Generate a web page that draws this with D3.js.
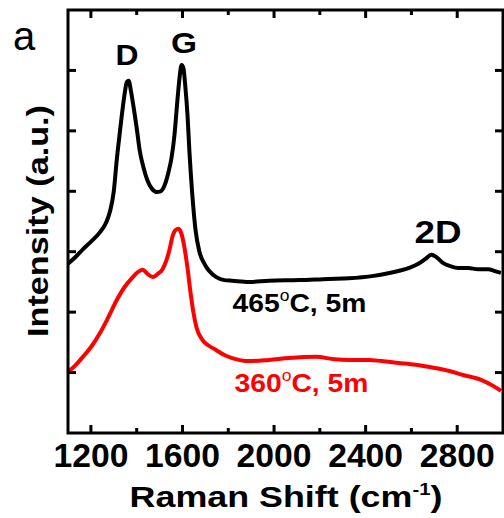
<!DOCTYPE html>
<meta charset="utf-8">
<script src="https://d3js.org/d3.v7.min.js"></script>
<style>
  body { margin: 0; background: #fff; }
  text { font-family: Arial, "Liberation Sans", sans-serif; }
</style>
<div id="chart"></div>
<script>

// Raman spectra (x = cm-1, y = intensity a.u.)
var shift465 = [1100, 1135, 1165, 1204, 1239, 1265, 1283, 1300, 1313, 1326, 1339, 1348, 1357, 1365, 1374, 1387, 1400, 1413, 1430, 1448, 1465, 1487, 1504, 1522, 1539, 1552, 1565, 1578, 1587, 1596, 1604, 1613, 1622, 1630, 1643, 1657, 1674, 1696, 1717, 1748, 1783, 1817, 1891, 1978, 2109, 2239, 2326, 2435, 2543, 2596, 2630, 2661, 2687, 2709, 2739, 2770, 2804, 2848, 2891, 2935, 2965, 2991];
var int465   = [2.80, 2.92, 3.04, 3.18, 3.32, 3.47, 3.66, 4.00, 4.52, 4.96, 5.38, 5.63, 5.81, 5.83, 5.68, 5.38, 5.05, 4.68, 4.39, 4.17, 4.05, 3.99, 4.00, 4.10, 4.32, 4.55, 4.93, 5.51, 5.87, 6.09, 6.04, 5.71, 5.26, 4.68, 3.94, 3.36, 3.00, 2.80, 2.68, 2.58, 2.53, 2.52, 2.50, 2.52, 2.53, 2.55, 2.56, 2.60, 2.68, 2.74, 2.80, 2.88, 2.95, 2.91, 2.81, 2.76, 2.73, 2.73, 2.71, 2.71, 2.68, 2.65];

var shift360 = [1100, 1130, 1165, 1204, 1239, 1274, 1313, 1348, 1383, 1404, 1426, 1448, 1470, 1491, 1513, 1530, 1543, 1557, 1570, 1583, 1596, 1609, 1622, 1635, 1648, 1661, 1687, 1717, 1748, 1783, 1817, 1891, 1978, 2065, 2183, 2265, 2326, 2413, 2470, 2543, 2617, 2696, 2761, 2826, 2904, 2957, 2991];
var int360   = [1.01, 1.11, 1.26, 1.44, 1.65, 1.90, 2.20, 2.42, 2.58, 2.66, 2.70, 2.63, 2.58, 2.63, 2.71, 2.86, 3.03, 3.26, 3.36, 3.38, 3.29, 3.06, 2.73, 2.33, 1.99, 1.75, 1.54, 1.44, 1.37, 1.29, 1.24, 1.19, 1.21, 1.24, 1.26, 1.22, 1.21, 1.21, 1.19, 1.16, 1.13, 1.08, 1.03, 0.96, 0.88, 0.78, 0.70];

var xTicks = [1200, 1600, 2000, 2400, 2800];
var xMinor = [1400, 1800, 2200, 2600];
var yTicks = [1, 2, 3, 4, 5, 6];

var W = 504, H = 518;
var svg = d3.select("#chart").append("svg")
    .attr("width", W)
    .attr("height", H);

var x = d3.scaleLinear().domain([1100, 3000]).range([68, 503]);
var y = d3.scaleLinear().domain([0, 7]).range([433, 10]);

// stretch a text element horizontally to a given width
function fit(t, w) {
  var b = t.node().getBBox();
  var cx = b.x + b.width / 2;
  t.attr("transform", "translate(" + cx + ",0) scale(" + (w / b.width) + ",1) translate(" + (-cx) + ",0)");
}

var line = d3.line()
    .x(function (d) { return x(d[0]); })
    .y(function (d) { return y(d[1]); })
    .curve(d3.curveMonotoneX);

svg.append("path")
    .datum(d3.zip(shift360, int360))
    .attr("d", line)
    .attr("fill", "none")
    .attr("stroke", "#ff0000")
    .attr("stroke-width", 4)
    .attr("stroke-linejoin", "round");

svg.append("path")
    .datum(d3.zip(shift465, int465))
    .attr("d", line)
    .attr("fill", "none")
    .attr("stroke", "#000")
    .attr("stroke-width", 4)
    .attr("stroke-linejoin", "round");

// frame + inward ticks
var frame = svg.append("g").attr("stroke", "#000").attr("stroke-width", 3);
frame.append("rect")
    .attr("x", x.range()[0]).attr("y", y.range()[1])
    .attr("width", x.range()[1] - x.range()[0])
    .attr("height", y.range()[0] - y.range()[1])
    .attr("fill", "none");

xTicks.forEach(function (v) {
  frame.append("line").attr("x1", x(v)).attr("x2", x(v)).attr("y1", 433).attr("y2", 425);
  frame.append("line").attr("x1", x(v)).attr("x2", x(v)).attr("y1", 10).attr("y2", 18);
});
xMinor.forEach(function (v) {
  frame.append("line").attr("x1", x(v)).attr("x2", x(v)).attr("y1", 433).attr("y2", 428);
  frame.append("line").attr("x1", x(v)).attr("x2", x(v)).attr("y1", 10).attr("y2", 15);
});
yTicks.forEach(function (v) {
  frame.append("line").attr("x1", 68).attr("x2", 76).attr("y1", y(v)).attr("y2", y(v));
  frame.append("line").attr("x1", 503).attr("x2", 495).attr("y1", y(v)).attr("y2", y(v));
});

// x tick labels
xTicks.forEach(function (v) {
  var t = svg.append("text")
      .attr("x", x(v)).attr("y", 467)
      .attr("text-anchor", "middle")
      .style("font-size", "33px").style("font-weight", "bold")
      .text(v);
  fit(t, 75);
});

// axis titles
var xt = svg.append("text")
    .attr("x", 286).attr("y", 507)
    .attr("text-anchor", "middle")
    .style("font-size", "30px").style("font-weight", "bold");
xt.append("tspan").text("Raman Shift (cm");
xt.append("tspan").attr("dy", -12).style("font-size", "17px").text("-1");
xt.append("tspan").attr("dy", 12).text(")");
fit(xt, 313);

var yt = svg.append("g").attr("transform", "translate(48,221) rotate(-90)");
var ytt = yt.append("text")
    .attr("x", 0).attr("y", 0)
    .attr("text-anchor", "middle")
    .style("font-size", "30px").style("font-weight", "bold")
    .text("Intensity (a.u.)");
fit(ytt, 232);

// panel letter and peak names
svg.append("text").attr("x", 13).attr("y", 50)
    .style("font-size", "40px").text("a");

var peaks = [["D", 127, 65, 23], ["G", 184, 53, 26], ["2D", 438, 243, 47]];
peaks.forEach(function (p) {
  var t = svg.append("text").attr("x", p[1]).attr("y", p[2])
      .attr("text-anchor", "middle")
      .style("font-size", p[0] == "2D" ? "32px" : "30px").style("font-weight", "bold")
      .text(p[0]);
  fit(t, p[3]);
});

// sample labels
function sample(label, x0, y0, color) {
  var t = svg.append("text").attr("x", x0).attr("y", y0)
      .attr("fill", color)
      .style("font-size", "26px").style("font-weight", "bold");
  t.append("tspan").text(label);
  t.append("tspan").attr("dy", -11).style("font-size", "16px").style("font-weight", "normal").text("o");
  t.append("tspan").attr("dy", 11).text("C, 5m");
  fit(t, 134);
}
sample("465", 238, 312, "#000");
sample("360", 240, 392, "#ff0000");

</script>
